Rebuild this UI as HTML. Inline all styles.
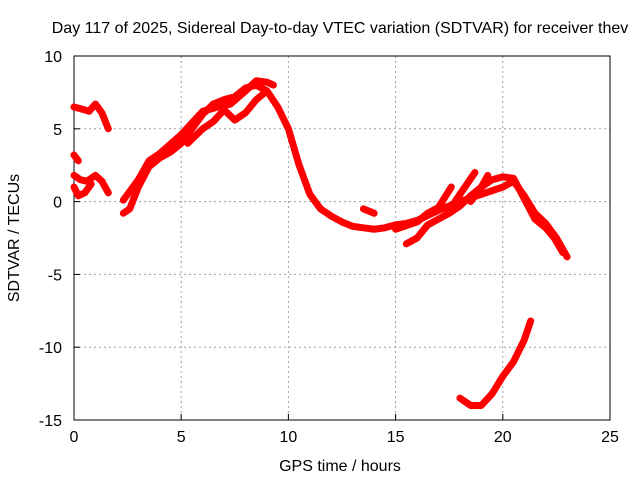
<!DOCTYPE html>
<html><head><meta charset="utf-8"><style>
body{margin:0;background:#fff;}
svg text{font-family:"Liberation Sans",sans-serif;font-size:16px;fill:#000;}
</style></head><body>
<svg width="640" height="480">
<rect width="640" height="480" fill="#fff"/>
<text x="340" y="33" text-anchor="middle">Day 117 of 2025, Sidereal Day-to-day VTEC variation (SDTVAR) for receiver thev</text>
<g id="grid"></g>
<g id="axes"></g>
<g id="series"></g>
<text x="340" y="471" text-anchor="middle">GPS time / hours</text>
<text transform="translate(19,238) rotate(-90)" text-anchor="middle">SDTVAR / TECUs</text>
</svg>
<script>
const xTicks=[0,5,10,15,20,25];
const yTicks=[10,5,0,-5,-10,-15];
const trackA=[[0,6.5],[0.5,6.3],[0.7,6.2],[1.0,6.7],[1.3,6.1],[1.6,5.0]];
const trackB=[[0,3.2],[0.2,2.8]];
const trackC=[[0,1.8],[0.3,1.5],[0.6,1.4],[1.0,1.8],[1.3,1.4],[1.6,0.6]];
const trackD=[[0,1.0],[0.2,0.4],[0.5,0.6],[0.8,1.2]];
const mainTrack=[[2.3,-0.8],[2.6,-0.5],[3,1],[3.5,2.4],[4,3.0],[4.5,3.4],[5,4],[5.5,5],[6,6],[6.5,6.7],[7,7],[7.5,7.2],[8,7.8],[8.5,8],[9,7.6],[9.5,6.5],[10,5],[10.5,2.5],[11,0.5],[11.5,-0.5],[12,-1],[12.5,-1.4],[13,-1.7],[13.5,-1.8],[14,-1.9],[14.5,-1.8],[15,-1.6],[15.5,-1.5],[16,-1.3],[17,-0.6],[18,0],[19,0.5],[20,1.0],[20.5,1.4],[21,0.4],[21.5,-0.8],[22,-1.5],[22.5,-2.5],[23,-3.8]];
const upperTrack=[[2.3,0.1],[3,1.5],[3.5,2.8],[4,3.3],[5,4.6],[6,6.2],[6.7,6.5],[7.3,6.7],[8,7.6],[8.5,8.3],[9,8.2],[9.3,8.0]];
const midTrack=[[5.3,4.0],[6,5.0],[6.5,5.5],[7,6.3],[7.5,5.6],[8,6.1],[8.5,7],[9,7.6]];
const lateA=[[13.5,-0.5],[14,-0.8]];
const lateB=[[15.5,-2.9],[16,-2.5],[16.5,-1.6],[17,-1.2],[17.5,-0.8],[18,-0.3],[18.5,0.4],[19,1],[19.5,1.5],[20,1.7],[20.5,1.6],[21,0.2],[21.5,-1.2],[22,-1.8],[22.4,-2.5],[22.8,-3.5]];
const lateC=[[15,-1.9],[16,-1.4],[16.5,-0.8],[17,-0.4],[17.6,1.0]];
const lateD=[[17.5,-0.6],[18,0.5],[18.7,2.0]];
const lateE=[[18.5,0],[19,1],[19.3,1.8]];
const lowTrack=[[18,-13.5],[18.5,-14],[19,-14],[19.5,-13.2],[20,-12],[20.5,-11],[21,-9.5],[21.3,-8.2]];
const allSeries=[trackA,trackB,trackC,trackD,mainTrack,upperTrack,midTrack,lateA,lateB,lateC,lateD,lateE,lowTrack];
const X0=74,X1=610,Y0=56,Y1=420;
function xs(v){return X0+(v-0)/25*(X1-X0);}
function ys(v){return Y0+(10-v)/25*(Y1-Y0);}
const NS="http://www.w3.org/2000/svg";
const grid=document.getElementById('grid'),axes=document.getElementById('axes'),series=document.getElementById('series');
function mk(tag,attrs,parent){const e=document.createElementNS(NS,tag);for(const k in attrs)e.setAttribute(k,attrs[k]);parent.appendChild(e);return e;}
xTicks.forEach(t=>{
  const x=xs(t);
  if(t>0&&t<25){const g=mk('line',{x1:x,x2:x,y1:Y0,y2:Y1,stroke:'#a0a0a0','stroke-dasharray':'2,3'},grid);
  
  }
  const tk=mk('line',{x1:x,x2:x,y1:Y1,y2:Y1-6,stroke:'#000'},axes);
  
  
  const tt=mk('text',{x:x,y:Y1+22,'text-anchor':'middle'},axes);tt.textContent=t;
  
  
});
yTicks.forEach(t=>{
  const y=ys(t);
  if(t<10&&t>-15){const g=mk('line',{x1:X0,x2:X1,y1:y,y2:y,stroke:'#a0a0a0','stroke-dasharray':'2,3'},grid);
  
  }
  const tk=mk('line',{x1:X0,x2:X0+6,y1:y,y2:y,stroke:'#000'},axes);
  
  
  const tt=mk('text',{x:X0-12,y:y+6,'text-anchor':'end'},axes);tt.textContent=t;
  
  
});
const fr=mk('rect',{x:X0,y:Y0,width:X1-X0,height:Y1-Y0,fill:'none',stroke:'#000'},axes);


allSeries.forEach(s=>{
  const p=mk('polyline',{points:s.map(d=>xs(d[0])+','+ys(d[1])).join(' '),fill:'none',stroke:'#ff0000','stroke-width':7,'stroke-linejoin':'round','stroke-linecap':'round'},series);
  
  
});
</script>
</body></html>
